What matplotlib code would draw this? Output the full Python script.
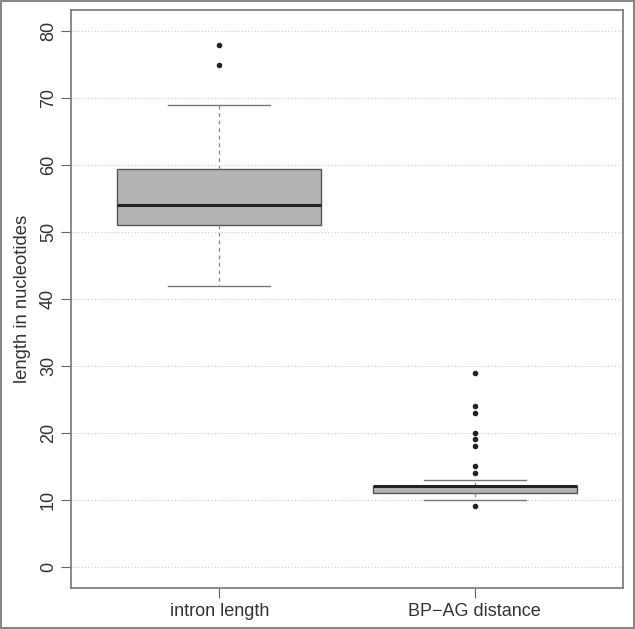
import matplotlib
matplotlib.use("Agg")
import matplotlib.pyplot as plt
from matplotlib.patches import Rectangle

plt.rcParams['font.family'] = ['Liberation Sans', 'DejaVu Sans']

# values
groups = ['intron length', 'BP\u2212AG distance']
whislo = [42, 10]
q1 = [51, 11]
medians = [54, 12]
q3 = [59.5, 12]
whishi = [69, 13]
fliers = [[75, 78], [9, 14, 15, 18, 19, 20, 23, 24, 29]]
yticks = [0, 10, 20, 30, 40, 50, 60, 70, 80]

fig = plt.figure(figsize=(6.35, 6.29), dpi=100)
ax = fig.add_axes([71 / 635, 1 - 588 / 629, (623 - 71) / 635, (588 - 10) / 629])

stats = []
for i, g in enumerate(groups):
    stats.append(dict(label=g, whislo=whislo[i], q1=q1[i], med=medians[i],
                      q3=q3[i], whishi=whishi[i], fliers=fliers[i]))

ax.bxp(stats, positions=[1, 2], widths=0.8, patch_artist=True,
       boxprops=dict(facecolor='#b4b4b6', edgecolor='#555555', linewidth=1.0),
       medianprops=dict(color='#222222', linewidth=2.2),
       whiskerprops=dict(color='#888888', linestyle=(0, (3, 3)), linewidth=0.9),
       capprops=dict(color='#777777', linewidth=1.0),
       capwidths=0.4,
       flierprops=dict(marker='o', markersize=3.0, markerfacecolor='#222222',
                       markeredgecolor='#222222'))

for y in yticks:
    ax.axhline(y, color='#c8c8c8', linestyle=(0, (1, 2)), linewidth=0.8, zorder=0)

ax.set_xlim(0.42, 2.58)
ax.set_ylim(-3.2, 83.2)
ax.set_yticks(yticks)
ax.set_yticklabels([str(v) for v in yticks], rotation=90, va='center')
ax.set_xticks([1, 2])
ax.set_xticklabels(groups)
ax.tick_params(colors='#666666', labelcolor='#333333', labelsize=13, length=7)
ax.tick_params(axis='x', pad=4)
ax.tick_params(axis='y', pad=3)
ax.set_ylabel('length in nucleotides', fontsize=13.3, color='#333333')
ax.yaxis.set_label_coords(-0.072, 0.5)
for s in ax.spines.values():
    s.set_color('#777777')
    s.set_linewidth(1.2)

fig.patches.append(Rectangle((0.001, 0.001), 0.997, 0.997, transform=fig.transFigure,
                             fill=False, edgecolor='#888888', linewidth=1.5))

fig.savefig('out.png', dpi=100)
